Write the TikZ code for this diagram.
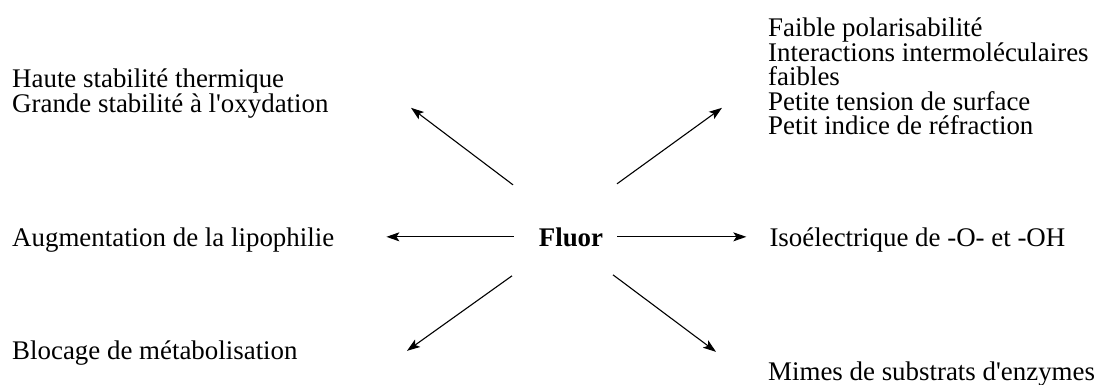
\documentclass[tikz,border=0pt]{standalone}
\usepackage{fontspec}
\setmainfont{Liberation Serif}
\usetikzlibrary{arrows.meta, positioning, calc}

\begin{document}
\begin{tikzpicture}[x=1pt, y=-1pt, >={Stealth[length=13pt, width=9pt, inset=3pt]}]
    \tikzset{
		effect/.style={align=left, inner sep=0pt, anchor=base west, font=\fontsize{26.9}{24.5}\selectfont},
		element/.style={inner sep=0pt, font=\fontsize{26.9}{24.5}\selectfont\bfseries},
		link/.style={->, line width=1.1pt}
	}
	\useasboundingbox (0,0) rectangle (1098,385);

	% --- Centre ---
	\node [element, anchor=base] (fluor) at (571,246) {Fluor};

	% --- Effets a gauche (ancre sur la derniere ligne) ---
	\node [effect] (thermo) at (12,112.5) {Haute stabilité thermique\\ Grande stabilité à l\textquotesingle oxydation};
	\node [effect] (lipo) at (12,246) {Augmentation de la lipophilie};
	\node [effect] (bloc) at (12,359) {Blocage de métabolisation};

	% --- Effets a droite ---
	\node [effect] (polar) at (768,135) {Faible polarisabilité\\ Interactions intermoléculaires\\ faibles\\ Petite tension de surface\\ Petit indice de réfraction};
	\node [effect, base right=166pt of fluor] (iso) {Isoélectrique de -O- et -OH};
	\node [effect] (mimes) at (768,380) {Mimes de substrats d\textquotesingle enzymes};

	% --- Fleches horizontales ---
	\coordinate (lipo_tip) at ($(lipo.east) + (52,0)$);
	\draw [link] ($(fluor.west) + (-25,0)$) -- (fluor.west -| lipo_tip);
	\draw [link] ($(fluor.east) + (14,0)$) -- ($(fluor.east -| iso.west) + (-23,0)$);

	% --- Fleches diagonales ---
	\coordinate (ul_start) at ($(fluor.center) + (-58,-52)$);
	\coordinate (ul_tip) at ($(fluor.center) + (-160,-129)$);
	\draw [link] (ul_start) -- (ul_tip);

	\coordinate (ur_start) at ($(fluor.center) + (46,-53)$);
	\coordinate (ur_tip) at ($(fluor.center) + (151,-129)$);
	\draw [link] (ur_start) -- (ur_tip);

	\coordinate (ll_start) at ($(fluor.center) + (-59,39)$);
	\coordinate (ll_tip) at ($(fluor.center) + (-164,114)$);
	\draw [link] (ll_start) -- (ll_tip);

	\coordinate (lr_start) at ($(fluor.center) + (42,38)$);
	\coordinate (lr_tip) at ($(fluor.center) + (145,115)$);
	\draw [link] (lr_start) -- (lr_tip);
\end{tikzpicture}
\end{document}
